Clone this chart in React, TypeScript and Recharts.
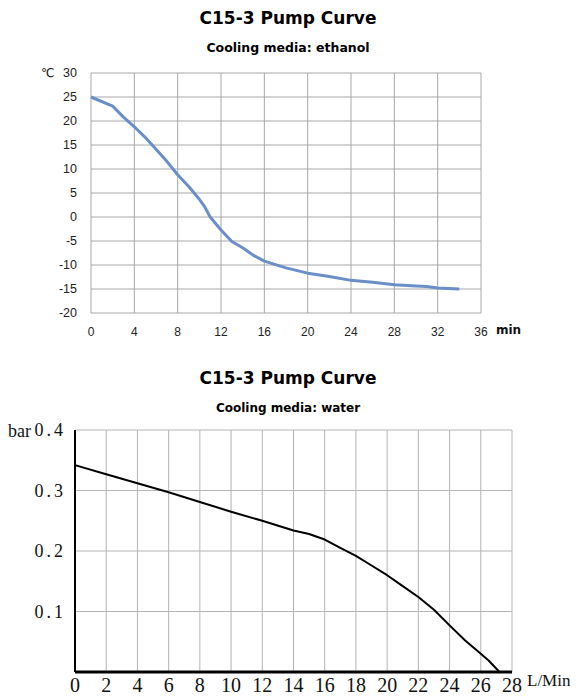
import React from "react";
import {
  LineChart,
  Line,
  XAxis,
  YAxis,
  CartesianGrid,
} from "recharts";

// ethanol cooling curve: minutes -> °C
const ethanolMinutes = [0, 2, 3, 4, 5, 6, 7, 8, 9, 10, 10.5, 11, 12, 13, 14, 15, 16, 18, 20, 22, 24, 26, 28, 30, 31, 32, 34];
const ethanolTemp = [25, 23.1, 20.8, 18.8, 16.6, 14.1, 11.6, 8.8, 6.4, 3.7, 2.1, 0, -2.7, -5.1, -6.4, -8, -9.2, -10.6, -11.7, -12.4, -13.2, -13.6, -14.1, -14.4, -14.5, -14.8, -15];
const tempTicks = [-20, -15, -10, -5, 0, 5, 10, 15, 20, 25, 30];
const minuteTicks = [0, 4, 8, 12, 16, 20, 24, 28, 32, 36];

// water pump curve: L/min -> bar
const waterFlow = [0, 2, 4, 6, 8, 10, 12, 14, 15, 16, 17, 18, 19, 20, 21, 22, 23, 24, 25, 26, 26.5, 27.2];
const waterPressure = [0.342, 0.327, 0.312, 0.297, 0.281, 0.265, 0.25, 0.234, 0.228, 0.219, 0.205, 0.192, 0.176, 0.16, 0.142, 0.124, 0.103, 0.077, 0.052, 0.03, 0.019, 0];
const barTicks = [0.1, 0.2, 0.3, 0.4];
const flowTicks = [0, 2, 4, 6, 8, 10, 12, 14, 16, 18, 20, 22, 24, 26, 28];

const ethanolData = ethanolMinutes.map((t, i) => ({ t, v: ethanolTemp[i] }));
const waterData = waterFlow.map((q, i) => ({ q, p: waterPressure[i] }));

const sans = "'DejaVu Sans', Verdana, sans-serif";
const serif = "'Liberation Serif', 'Times New Roman', serif";

const titleStyle: React.CSSProperties = {
  position: "absolute",
  left: 0,
  width: 576,
  textAlign: "center",
  fontFamily: sans,
  fontWeight: "bold",
  color: "#000",
  lineHeight: 1,
  whiteSpace: "nowrap",
};

function Text({ x, y, size, family, bold, children }: any) {
  return (
    <div
      style={{
        position: "absolute",
        left: x,
        top: y,
        fontSize: size,
        fontFamily: family,
        fontWeight: bold ? "bold" : "normal",
        lineHeight: 1,
        whiteSpace: "nowrap",
        color: "#111",
      }}
    >
      {children}
    </div>
  );
}

export default function App() {
  return (
    <div
      style={{
        position: "absolute",
        left: 0,
        top: 0,
        width: 576,
        height: 700,
        background: "#fff",
        overflow: "hidden",
      }}
    >
      <div style={{ ...titleStyle, top: 10, fontSize: 17 }}>C15-3 Pump Curve</div>
      <div style={{ ...titleStyle, top: 42, fontSize: 12.5 }}>Cooling media: ethanol</div>

      {/* ethanol temperature curve */}
      <div style={{ position: "absolute", left: 0, top: 0 }}>
        <LineChart
          width={576}
          height={350}
          data={ethanolData}
          margin={{ top: 73, right: 95, bottom: 7, left: 51 }}
        >
          <CartesianGrid stroke="#a8a8a8" strokeWidth={1} />
          <XAxis
            type="number"
            dataKey="t"
            domain={[0, 36]}
            ticks={minuteTicks}
            height={30}
            axisLine={false}
            tickLine={false}
            tickSize={12}
            tickMargin={2}
            interval={0}
            tick={{ fontSize: 12, fill: "#222", fontFamily: "'Liberation Sans', Arial, sans-serif" }}
          />
          <YAxis
            type="number"
            domain={[-20, 30]}
            ticks={tempTicks}
            width={40}
            axisLine={false}
            tickLine={false}
            tickSize={12}
            tickMargin={2}
            interval={0}
            tick={{ fontSize: 12.5, fill: "#222", fontFamily: "'Liberation Sans', Arial, sans-serif" }}
          />
          <Line
            type="linear"
            dataKey="v"
            stroke="#6a8fc8"
            strokeWidth={3}
            strokeLinejoin="round"
            dot={false}
            isAnimationActive={false}
          />
        </LineChart>
      </div>
      <Text x={41} y={67} size={12} family={sans}>℃</Text>
      <Text x={496} y={324} size={12} family={sans} bold>min</Text>

      <div style={{ ...titleStyle, top: 370, fontSize: 17 }}>C15-3 Pump Curve</div>
      <div style={{ ...titleStyle, top: 402, fontSize: 12 }}>Cooling media: water</div>

      {/* water pump curve */}
      <div style={{ position: "absolute", left: 0, top: 360 }}>
        <LineChart
          width={576}
          height={340}
          data={waterData}
          margin={{ top: 70, right: 64, bottom: 0, left: 15 }}
        >
          <CartesianGrid stroke="#b4b4b4" strokeWidth={1} />
          <XAxis
            type="number"
            dataKey="q"
            domain={[0, 28]}
            ticks={flowTicks}
            height={28}
            axisLine={{ stroke: "#000", strokeWidth: 3 }}
            tickLine={false}
            tickSize={4}
            tickMargin={2}
            interval={0}
            tick={{ fontSize: 20, fill: "#111", fontFamily: serif }}
          />
          <YAxis
            type="number"
            domain={[0, 0.4]}
            ticks={barTicks}
            width={60}
            axisLine={{ stroke: "#000", strokeWidth: 2 }}
            tickLine={false}
            tickSize={7}
            tickMargin={2}
            interval={0}
            tickFormatter={(v: number) => v.toFixed(1)}
            tick={{ fontSize: 18, fill: "#111", fontFamily: serif, letterSpacing: 3 }}
          />
          <Line
            type="linear"
            dataKey="p"
            stroke="#000"
            strokeWidth={2}
            strokeLinejoin="round"
            dot={false}
            isAnimationActive={false}
          />
        </LineChart>
      </div>
      <Text x={8} y={422} size={18} family={serif}>bar</Text>
      <Text x={527} y={672} size={17} family={serif}>L/Min</Text>
    </div>
  );
}
